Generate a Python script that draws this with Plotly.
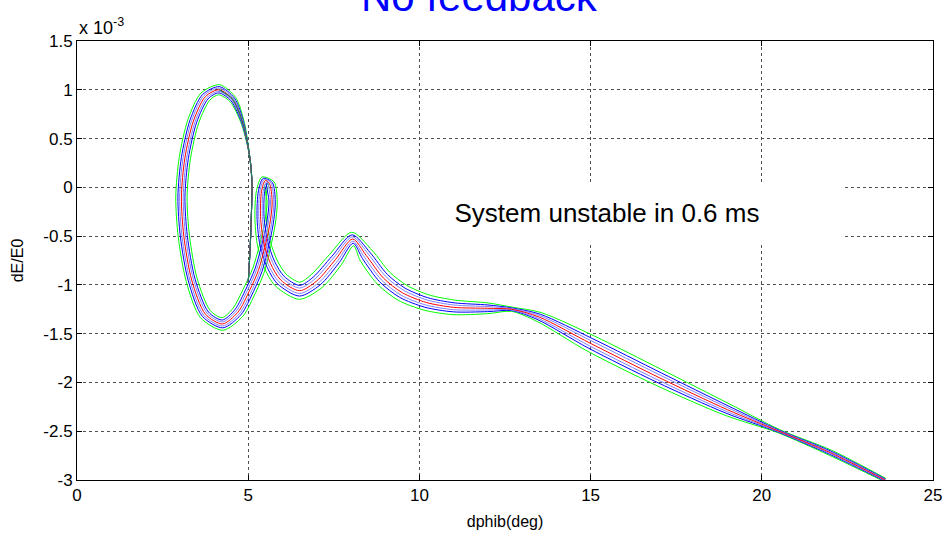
import numpy as np
import plotly.graph_objects as go

# ---- data (dE/E0 in units of 1e-3) ----
# centre (red) trajectory of the bunch
path_x = [5.00, 5.06, 5.10, 5.11, 5.05, 4.85, 4.55, 4.15, 3.75, 3.40, 3.15, 3.05, 3.12, 3.35,
          3.75, 4.25, 4.70, 5.05, 5.30, 5.48, 5.63, 5.70, 5.62, 5.50, 5.39, 5.36, 5.45, 5.65,
          5.95, 6.50, 7.00, 7.55, 8.05, 8.45, 8.95, 9.50, 10.20, 11.00, 12.00, 12.70, 13.50,
          15.00, 17.00, 19.00, 20.50, 22.00, 23.60]
path_y = [-0.98, -0.60, -0.20, 0.05, 0.30, 0.65, 0.90, 1.00, 0.93, 0.68, 0.30, -0.10, -0.50, -0.95,
          -1.30, -1.40, -1.28, -1.05, -0.85, -0.62, -0.38, -0.15, 0.04, 0.07, -0.04, -0.30, -0.56, -0.78,
          -0.95, -1.06, -0.96, -0.74, -0.53, -0.70, -0.93, -1.08, -1.18, -1.23, -1.24, -1.25, -1.33,
          -1.60, -1.95, -2.28, -2.50, -2.72, -3.00]
# half width of the bunch envelope around the centre trajectory (same units as dE/E0)
spread_dE = [0.0, 0.0, 0.0, 0.0, 0.0, 0.016, 0.036, 0.052, 0.058, 0.058, 0.058, 0.058, 0.058, 0.058,
             0.062, 0.065, 0.065, 0.065, 0.062, 0.058, 0.055, 0.052, 0.050, 0.050, 0.052, 0.058, 0.068, 0.076,
             0.082, 0.088, 0.086, 0.080, 0.070, 0.080, 0.088, 0.088, 0.082, 0.075, 0.055, 0.022, 0.050,
             0.085, 0.085, 0.062, 0.018, 0.028, 0.018]
# initial (coinciding) particle track
start_x = [5.00, 5.06, 5.10, 5.11, 5.05, 4.85, 4.55, 4.15]
start_y = [-0.98, -0.60, -0.20, 0.05, 0.30, 0.65, 0.90, 1.00]

x_ticks = [0, 5, 10, 15, 20, 25]
x_tick_labels = ["0", "5", "10", "15", "20", "25"]
y_ticks = [-3, -2.5, -2, -1.5, -1, -0.5, 0, 0.5, 1, 1.5]
y_tick_labels = ["-3", "-2.5", "-2", "-1.5", "-1", "-0.5", "0", "0.5", "1", "1.5"]

# particles of the bunch: relative position inside envelope and colour
band_members = [(-1.0, "#00ff00"), (1.0, "#00ff00"),
                (-0.62, "#0000ff"), (0.62, "#0000ff"),
                (-0.32, "#8080ff"), (0.32, "#8080ff"),
                (0.0, "#ff0000")]

# ---- layout geometry ----
W, H = 943, 535
ML, MR, MT, MB = 77, 10, 41, 55
X_RANGE = [0, 25]
Y_RANGE = [-3, 1.5]
pw, ph = W - ML - MR, H - MT - MB
sx = pw / (X_RANGE[1] - X_RANGE[0])
sy = ph / (Y_RANGE[1] - Y_RANGE[0])

cx = np.array(path_x)
cy = np.array(path_y)
sp = np.array(spread_dE)
tx = np.gradient(cx * sx)
ty = np.gradient(cy * sy)
nrm = np.hypot(tx, ty)
nx, ny = -ty / nrm, tx / nrm

fig = go.Figure()
for k, col in band_members:
    ox = cx + k * sp * sy * nx / sx
    oy = cy + k * sp * ny
    fig.add_trace(go.Scatter(x=ox, y=oy, mode="lines",
                             line=dict(color=col, width=1, shape="spline", smoothing=0.8),
                             hoverinfo="skip", showlegend=False))
fig.add_trace(go.Scatter(x=start_x, y=start_y, mode="lines",
                         line=dict(color="#237a5c", width=1.2, shape="spline", smoothing=0.8),
                         hoverinfo="skip", showlegend=False))

font = "Arial, Liberation Sans, Helvetica, sans-serif"
axis_common = dict(showline=True, linecolor="black", linewidth=1, mirror="ticks",
                   ticks="inside", ticklen=5, tickcolor="black", automargin=False,
                   showgrid=True, gridcolor="#505050", griddash="dot", gridwidth=1,
                   zeroline=False, tickfont=dict(family=font, size=17, color="black"))

fig.update_layout(
    width=W, height=H,
    margin=dict(l=ML, r=MR, t=MT, b=MB, pad=0),
    paper_bgcolor="white", plot_bgcolor="white",
    xaxis=dict(range=X_RANGE, tickmode="array", tickvals=x_ticks, ticktext=x_tick_labels,
               title=dict(text="dphib(deg)", font=dict(family=font, size=16, color="black"), standoff=11),
               **axis_common),
    yaxis=dict(range=Y_RANGE, tickmode="array", tickvals=y_ticks, ticktext=y_tick_labels,
               title=dict(text="dE/E0", font=dict(family=font, size=16, color="black"), standoff=15),
               **axis_common),
    annotations=[
        dict(text="No feedback", xref="paper", yref="paper", x=0.47, y=1 + (MT - 22) / ph,
             xanchor="center", yanchor="bottom", showarrow=False,
             font=dict(family=font, size=42, color="#0000ff")),
        dict(text="x 10<sup>-3</sup>", xref="paper", yref="paper", x=0, y=1.003,
             xanchor="left", yanchor="bottom", showarrow=False,
             font=dict(family=font, size=18, color="black")),
        dict(text="System unstable in 0.6 ms", xref="paper", yref="paper",
             x=(607 - ML) / pw, y=(H - MB - 213) / ph, xanchor="center", yanchor="middle",
             showarrow=False, bgcolor="white", width=470, height=56,
             font=dict(family=font, size=26, color="black")),
    ],
)

fig.write_html("out.html")
